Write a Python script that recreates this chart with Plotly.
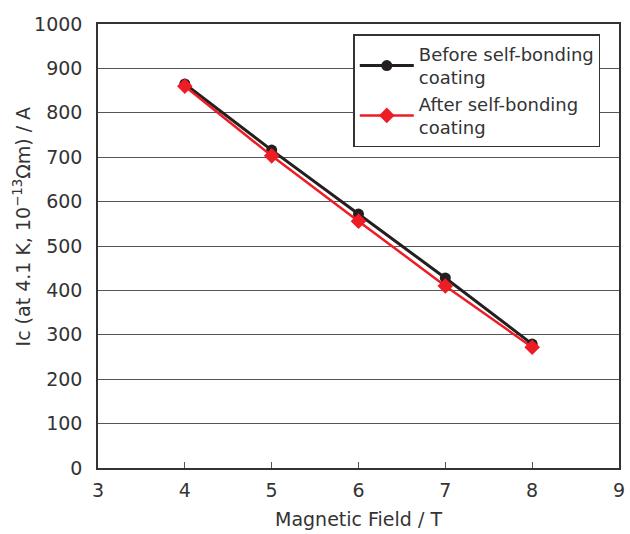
import plotly.graph_objects as go

field = [4, 5, 6, 7, 8]
before = [865, 716, 572, 428, 279]
after = [860, 703, 556, 410, 272]

FONT = "DejaVu Sans, Liberation Sans, sans-serif"

fig = go.Figure()
fig.add_trace(go.Scatter(
    x=field, y=before, mode="lines+markers",
    name="Before self-bonding<br>coating",
    line=dict(color="#231f20", width=3),
    marker=dict(symbol="circle", size=11, color="#231f20"),
))
fig.add_trace(go.Scatter(
    x=field, y=after, mode="lines+markers",
    name="After self-bonding<br>coating",
    line=dict(color="#ee1c25", width=2.5),
    marker=dict(symbol="diamond", size=12, color="#ee1c25"),
))

fig.update_layout(
    width=630, height=534,
    margin=dict(l=98, r=5, t=24, b=66),
    paper_bgcolor="white", plot_bgcolor="white",
    font=dict(family=FONT, size=19, color="#333333"),
    showlegend=True,
    legend=dict(
        x=0.490, y=0.977, xanchor="left", yanchor="top",
        bgcolor="white", bordercolor="#333333", borderwidth=1.5,
        font=dict(size=18, color="#333333"),
        tracegroupgap=0, itemwidth=54,
    ),
    xaxis=dict(
        range=[3, 9], dtick=1, tick0=3,
        showgrid=False, zeroline=False,
        showline=True, linecolor="#333333", linewidth=1.5, mirror=True,
        ticks="inside", ticklen=6, tickcolor="#555555",
        tickfont=dict(size=19), ticklabelstandoff=4,
        title=dict(text="Magnetic Field / T", standoff=13, font=dict(size=19)),
    ),
    yaxis=dict(
        range=[0, 1000], dtick=100,
        showgrid=True, gridcolor="#555555", gridwidth=1,
        zeroline=False,
        showline=True, linecolor="#333333", linewidth=1.5, mirror=True,
        ticks="outside", ticklen=10, tickcolor="rgba(0,0,0,0)",
        tickfont=dict(size=19),
    ),
    annotations=[dict(
        text="Ic (at 4.1 K, 10<sup>−13</sup>Ωm) / A",
        xref="paper", yref="paper", x=-0.145, y=0.545,
        xanchor="center", yanchor="middle", textangle=-90,
        showarrow=False, font=dict(size=19, color="#333333"),
    )],
)

fig.write_html("out.html")
